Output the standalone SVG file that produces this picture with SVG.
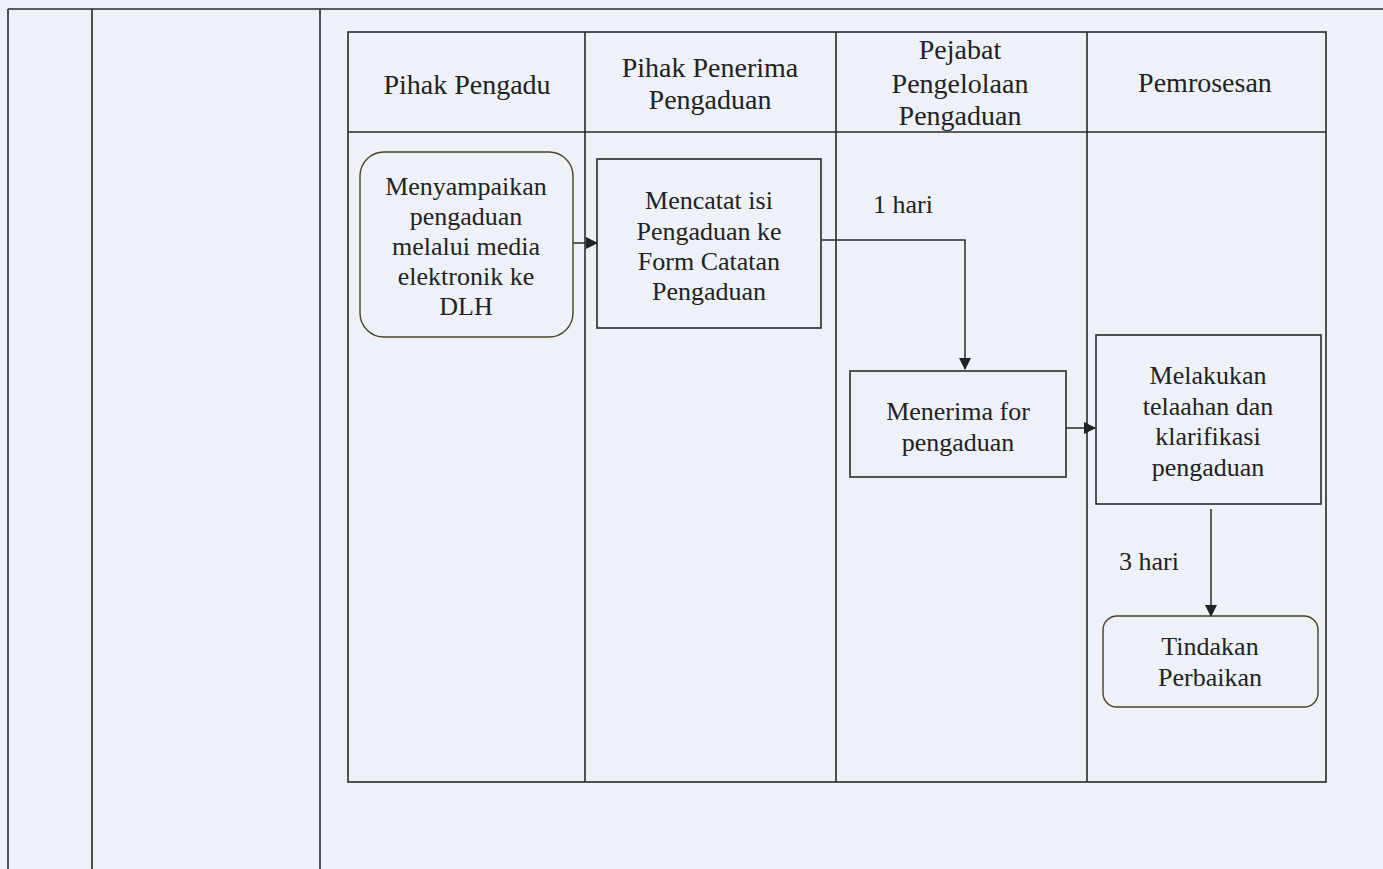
<svg xmlns="http://www.w3.org/2000/svg" width="1383" height="869" viewBox="0 0 1383 869">
<defs>
<marker id="arr" markerWidth="12" markerHeight="12" refX="11" refY="6" orient="auto" markerUnits="userSpaceOnUse">
<path d="M0,0 L12,6 L0,12 Z" fill="#222"/>
</marker>
<style>
.ln{stroke:#2a2a2a;stroke-width:1.6;fill:none}
.box{fill:none;stroke:#2a2a2a;stroke-width:1.6}
.rbox{fill:none;stroke:#4a4226;stroke-width:1.4}
.t{font-family:"Liberation Serif","DejaVu Serif",serif;font-size:26px;fill:#222;text-anchor:middle}
.h{font-family:"Liberation Serif","DejaVu Serif",serif;font-size:28px;fill:#222;text-anchor:middle}
.c{stroke:#2a2a2a;stroke-width:1.5;fill:none;marker-end:url(#arr)}
</style>
</defs>
<rect x="0" y="0" width="1383" height="869" fill="#eef1f7"/>
<g id="page-frame">
<line class="ln" x1="8" y1="9" x2="1383" y2="9"/>
<line class="ln" x1="8" y1="9" x2="8" y2="869"/>
<line class="ln" x1="92" y1="9" x2="92" y2="869"/>
<line class="ln" x1="320" y1="9" x2="320" y2="869"/>
</g>
<g id="swimlanes">
<rect class="box" x="348" y="32" width="978" height="750"/>
<line class="ln" x1="348" y1="132" x2="1326" y2="132"/>
<line class="ln" x1="585" y1="32" x2="585" y2="782"/>
<line class="ln" x1="836" y1="32" x2="836" y2="782"/>
<line class="ln" x1="1087" y1="32" x2="1087" y2="782"/>
<text class="h" x="467" y="94">Pihak Pengadu</text>
<text class="h" x="710" y="77">Pihak Penerima</text>
<text class="h" x="710" y="109">Pengaduan</text>
<text class="h" x="960" y="59">Pejabat</text>
<text class="h" x="960" y="93">Pengelolaan</text>
<text class="h" x="960" y="125">Pengaduan</text>
<text class="h" x="1205" y="92">Pemrosesan</text>
</g>
<g id="connectors">
<line class="c" x1="573" y1="243" x2="597" y2="243"/>
<polyline class="c" points="821,240 965,240 965,369"/>
<line class="c" x1="1066" y1="428" x2="1095" y2="428"/>
<line class="c" x1="1211" y1="509" x2="1211" y2="616"/>
<text class="t" x="903" y="213">1 hari</text>
<text class="t" x="1149" y="570">3 hari</text>
</g>
<g id="n-menyampaikan">
<rect class="rbox" x="360" y="152" width="213" height="185" rx="24"/>
<text class="t" x="466" y="195">Menyampaikan</text>
<text class="t" x="466" y="225">pengaduan</text>
<text class="t" x="466" y="255">melalui media</text>
<text class="t" x="466" y="285">elektronik ke</text>
<text class="t" x="466" y="315">DLH</text>
</g>
<g id="n-mencatat">
<rect class="box" x="597" y="159" width="224" height="169"/>
<text class="t" x="709" y="209">Mencatat isi</text>
<text class="t" x="709" y="240">Pengaduan ke</text>
<text class="t" x="709" y="270">Form Catatan</text>
<text class="t" x="709" y="300">Pengaduan</text>
</g>
<g id="n-menerima">
<rect class="box" x="850" y="371" width="216" height="106"/>
<text class="t" x="958" y="420">Menerima for</text>
<text class="t" x="958" y="451">pengaduan</text>
</g>
<g id="n-melakukan">
<rect class="box" x="1096" y="335" width="225" height="169"/>
<text class="t" x="1208" y="384">Melakukan</text>
<text class="t" x="1208" y="415">telaahan dan</text>
<text class="t" x="1208" y="445">klarifikasi</text>
<text class="t" x="1208" y="476">pengaduan</text>
</g>
<g id="n-tindakan">
<rect class="rbox" x="1103" y="616" width="215" height="91" rx="14"/>
<text class="t" x="1210" y="655">Tindakan</text>
<text class="t" x="1210" y="686">Perbaikan</text>
</g>
</svg>
